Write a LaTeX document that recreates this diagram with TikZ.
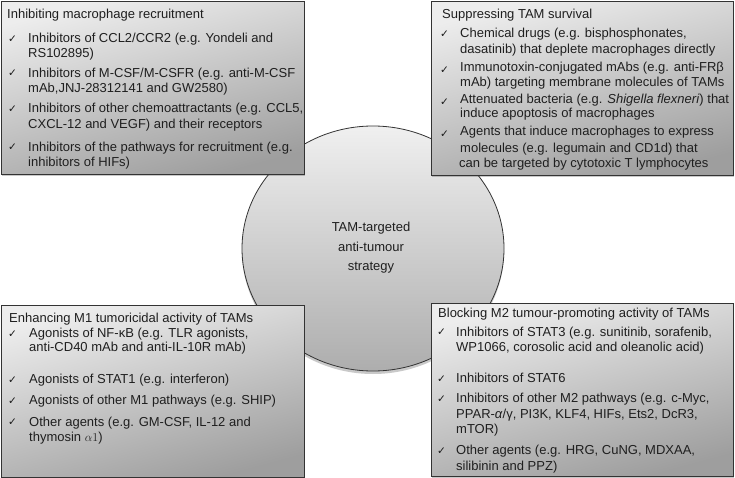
\documentclass[tikz,border=0pt]{standalone}
\usepackage{fontspec}
\setmainfont{Liberation Sans}
\newfontfamily\dejavu{DejaVu Sans}
\usetikzlibrary{shapes.geometric,shadows}
\tikzset{
  box/.style={draw=black!80, line width=0.8pt, top color=black!7, bottom color=black!38,
    shading angle=15, anchor=north west, inner sep=0pt,
    drop shadow={shadow xshift=1pt, shadow yshift=-2pt, opacity=0.3, fill=black!70}},
  oval/.style={ellipse, draw=black!80, line width=0.8pt, top color=black!6, bottom color=black!32,
    inner sep=0pt,
    drop shadow={shadow xshift=0pt, shadow yshift=-3pt, opacity=0.3, fill=black!70}},
  txt/.style={anchor=base west, inner sep=0pt, yshift=-4.6pt,
    font=\fontsize{13}{15}\selectfont, text=black!88},
  chk/.style={anchor=base west, inner sep=0pt, yshift=-4.2pt,
    font=\dejavu\fontsize{10.5}{11}\selectfont, text=black!90},
  ctr/.style={align=center, inner sep=0pt, font=\fontsize{13}{19.5}\selectfont, text=black!88}
}
\newcommand\Tx[4]{\node[txt] (#1) at (#2,#3) {#4};}
\newcommand\Ck[3]{\node[chk] (#1) at (#2,#3) {✓};}
\begin{document}
\begin{tikzpicture}[x=1pt,y=-1pt]
\useasboundingbox (0,0) rectangle (735,478);

% central ellipse
\node[oval, minimum width=262pt, minimum height=245pt] (c) at (373,248.5) {};
\node[ctr] (ct) at (371,248) {TAM-targeted\\anti-tumour\\strategy};

% boxes
\node[box, minimum width=303pt, minimum height=173pt] (tl) at (1,1) {};
\node[box, minimum width=302pt, minimum height=174pt] (tr) at (431,1) {};
\node[box, minimum width=303pt, minimum height=172pt] (bl) at (1,305) {};
\node[box, minimum width=302pt, minimum height=173pt] (br) at (431,303) {};

% top left
\Tx{tlt}{7}{14}{Inhibiting macrophage recruitment}
\Ck{tlc1}{8}{38.3}
\Tx{tl1a}{28}{38.3}{Inhibitors of CCL2/CCR2 (e.g. Yondeli and}
\Tx{tl1b}{28}{53.3}{RS102895)}
\Ck{tlc2}{8}{72.7}
\Tx{tl2a}{28}{72.7}{Inhibitors of M-CSF/M-CSFR (e.g. anti-M-CSF}
\Tx{tl2b}{28}{88.3}{mAb,JNJ-28312141 and GW2580)}
\Ck{tlc3}{8}{108.3}
\Tx{tl3a}{28}{108.3}{Inhibitors of other chemoattractants (e.g. CCL5,}
\Tx{tl3b}{28}{124}{CXCL-12 and VEGF) and their receptors}
\Ck{tlc4}{8}{146.7}
\Tx{tl4a}{28}{146.7}{Inhibitors of the pathways for recruitment (e.g.}
\Tx{tl4b}{28}{162.3}{inhibitors of HIFs)}

% top right
\Tx{trt}{442}{14}{Suppressing TAM survival}
\Ck{trc1}{440}{33.3}
\Tx{tr1a}{460}{33.3}{Chemical drugs (e.g. bisphosphonates,}
\Tx{tr1b}{460}{49.3}{dasatinib) that deplete macrophages directly}
\Ck{trc2}{440}{69}
\Tx{tr2a}{460}{66.7}{Immunotoxin-conjugated mAbs (e.g. anti-FRβ}
\Tx{tr2b}{460}{82.3}{mAb) targeting membrane molecules of TAMs}
\Ck{trc3}{440}{101.5}
\Tx{tr3a}{460}{99.3}{Attenuated bacteria (e.g. \textit{Shigella flexneri}) that}
\Tx{tr3b}{460}{113.3}{induce apoptosis of macrophages}
\Ck{trc4}{440}{133}
\Tx{tr4a}{460}{131}{Agents that induce macrophages to express}
\Tx{tr4b}{460}{147.7}{molecules (e.g. legumain and CD1d) that}
\Tx{tr4c}{459}{163.3}{can be targeted by cytotoxic T lymphocytes}

% bottom left
\Tx{blt}{9}{318.3}{Enhancing M1 tumoricidal activity of TAMs}
\Ck{blc1}{8}{333.3}
\Tx{bl1a}{29}{333.3}{Agonists of NF-κB (e.g. TLR agonists,}
\Tx{bl1b}{29}{347.3}{anti-CD40 mAb and anti-IL-10R mAb)}
\Ck{blc2}{8}{379.3}
\Tx{bl2a}{29}{379.3}{Agonists of STAT1 (e.g. interferon)}
\Ck{blc3}{8}{400}
\Tx{bl3a}{29}{400}{Agonists of other M1 pathways (e.g. SHIP)}
\Ck{blc4}{8}{421.7}
\Tx{bl4a}{29}{421.7}{Other agents (e.g. GM-CSF, IL-12 and}
\Tx{bl4b}{29}{436.7}{thymosin $\alpha1$)}

% bottom right
\Tx{brt}{438}{313.3}{Blocking M2 tumour-promoting activity of TAMs}
\Ck{brc1}{437}{331.7}
\Tx{br1a}{456}{331.7}{Inhibitors of STAT3 (e.g. sunitinib, sorafenib,}
\Tx{br1b}{456}{347.3}{WP1066, corosolic acid and oleanolic acid)}
\Ck{brc2}{437}{378.3}
\Tx{br2a}{456}{378.3}{Inhibitors of STAT6}
\Ck{brc3}{437}{398.3}
\Tx{br3a}{456}{398.3}{Inhibitors of other M2 pathways (e.g. c-Myc,}
\Tx{br3b}{456}{414}{PPAR-\textit{α}/γ, PI3K, KLF4, HIFs, Ets2, DcR3,}
\Tx{br3c}{456}{429.3}{mTOR)}
\Ck{brc4}{437}{450}
\Tx{br4a}{456}{450}{Other agents (e.g. HRG, CuNG, MDXAA,}
\Tx{br4b}{456}{466}{silibinin and PPZ)}
\end{tikzpicture}
\end{document}
